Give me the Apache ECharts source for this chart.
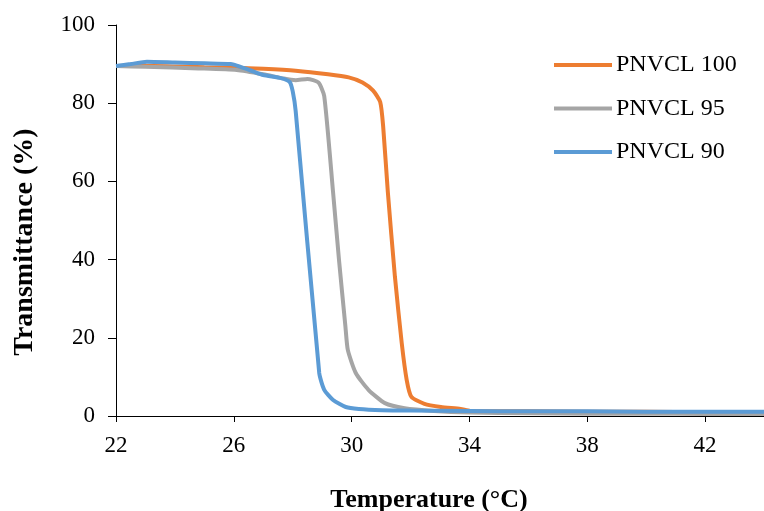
<!DOCTYPE html>
<html>
<head>
<meta charset="utf-8">
<script src="https://cdn.jsdelivr.net/npm/echarts@6/dist/echarts.min.js"></script>
<style>html,body{margin:0;padding:0;background:#fff;}#c{width:764px;height:511px;}</style>
</head>
<body>
<div id="c"></div>
<script>
var seriesNames = ['PNVCL 100', 'PNVCL 95', 'PNVCL 90'];
var xTicks = [22, 26, 30, 34, 38, 42];
var xTitle = 'Temperature (°C)';
var yTitle = 'Transmittance (%)';

var t100 = [22, 23, 24, 25, 26, 27, 28.1, 29.2, 29.9, 30.37, 30.73, 30.97, 31.07, 31.23, 31.47, 31.70, 31.87, 32.03, 32.47, 33.03, 33.7, 34.03, 36, 38, 40, 42, 44];
var v100 = [89.5, 89.6, 89.4, 89.2, 89.1, 88.8, 88.3, 87.4, 86.6, 85.3, 83.2, 80.3, 74.1, 57.2, 35.6, 18.7, 9.2, 4.9, 3.1, 2.3, 1.8, 1.3, 1.2, 1.1, 1.1, 1.0, 1.0];

var t95 = [22, 23, 24.8, 26.1, 27.0, 27.7, 28.1, 28.5, 28.87, 29.07, 29.37, 29.57, 29.79, 29.87, 30.14, 30.57, 31.13, 31.8, 32.8, 34, 36, 38, 40, 42, 44];
var v95 = [89.5, 89.3, 88.9, 88.5, 87.4, 86.3, 85.9, 86.2, 85.3, 81.8, 57.2, 40, 22.8, 16.9, 11, 6.7, 3.3, 2.0, 1.3, 0.9, 0.7, 0.6, 0.6, 0.5, 0.5];

var t90 = [22, 22.5, 23.05, 24, 25, 25.9, 26.1, 26.6, 27.0, 27.6, 27.9, 28.0, 28.1, 28.9, 29.07, 29.37, 29.8, 30.24, 31.04, 32, 34, 36, 38, 40, 42, 44];
var v90 = [89.5, 90.0, 90.6, 90.4, 90.2, 90.0, 89.6, 88.3, 87.2, 86.4, 85.4, 83, 78, 11, 6.7, 4.1, 2.3, 1.8, 1.5, 1.4, 1.3, 1.2, 1.2, 1.1, 1.1, 1.1];

function pairs(t, v) { return t.map(function (x, i) { return [x, v[i]]; }); }

var colors = ['#ED7D31', '#A5A5A5', '#5B9BD5'];
var font = 'Liberation Serif, Times New Roman, serif';

function mk(name, t, v, c) {
  return {
    name: name, type: 'line', data: pairs(t, v), showSymbol: false, symbol: 'none',
    smooth: 0.2,
    lineStyle: { color: c, width: 4 }, itemStyle: { color: c }
  };
}

var chart = echarts.init(document.getElementById('c'));
chart.setOption({
  animation: false,
  backgroundColor: '#fff',
  grid: { left: 116, right: -11, top: 25, bottom: 95 },
  legend: {
    data: seriesNames, orient: 'vertical', left: 549, top: 48,
    icon: 'rect', itemWidth: 58, itemHeight: 4, itemGap: 19.5,
    textStyle: { fontFamily: font, fontSize: 24, color: '#000', padding: [0, 0, 0, -1] }
  },
  graphic: [
    { type: 'text', x: 25, y: 242, rotation: Math.PI / 2,
      style: { text: yTitle, font: 'bold 28px ' + font, fill: '#000', align: 'center', verticalAlign: 'middle' } },
    { type: 'text', x: 429, y: 500,
      style: { text: xTitle, font: 'bold 26px ' + font, fill: '#000', align: 'center', verticalAlign: 'middle' } }
  ],
  xAxis: {
    type: 'value', min: 22, max: 44, interval: 4,
    axisLine: { show: true, lineStyle: { color: '#000', width: 1 } },
    axisTick: { show: true, length: 6, lineStyle: { color: '#000' } },
    axisLabel: { fontFamily: font, fontSize: 23, color: '#000', margin: 18, showMaxLabel: false,
      formatter: function (v) { return xTicks.indexOf(v) >= 0 ? String(v) : ''; } },
    splitLine: { show: false }
  },
  yAxis: {
    type: 'value', min: 0, max: 100, interval: 20,
    axisLine: { show: true, lineStyle: { color: '#000', width: 1 } },
    axisTick: { show: true, length: 8, lineStyle: { color: '#000' } },
    axisLabel: { fontFamily: font, fontSize: 23, color: '#000', margin: 21 },
    splitLine: { show: false }
  },
  series: [
    mk(seriesNames[0], t100, v100, colors[0]),
    mk(seriesNames[1], t95, v95, colors[1]),
    mk(seriesNames[2], t90, v90, colors[2])
  ]
});
</script>
</body>
</html>
